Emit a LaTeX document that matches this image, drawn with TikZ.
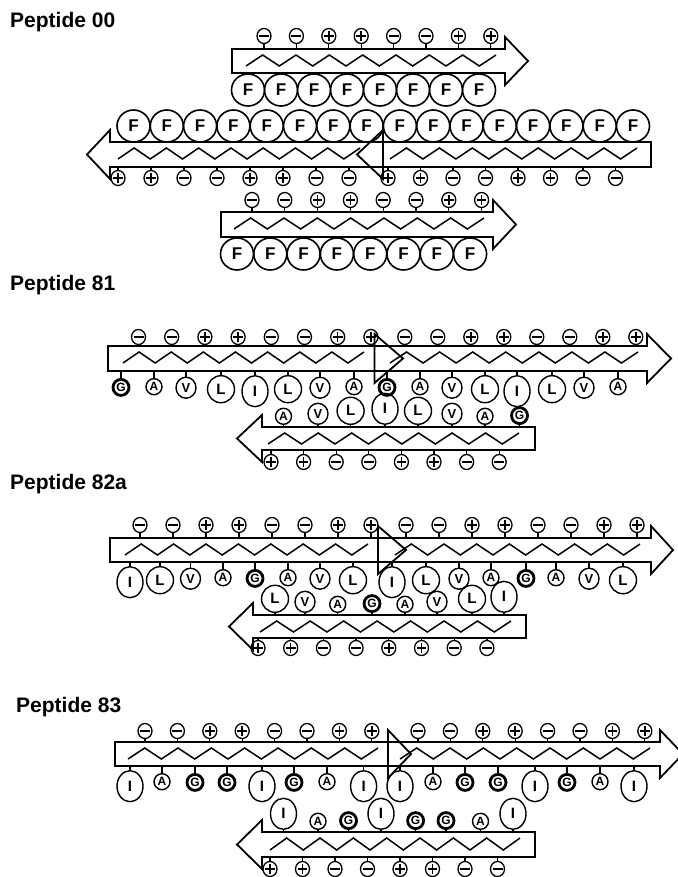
\documentclass[tikz,border=0pt]{standalone}
\usepackage{fontspec}
\setmainfont{Liberation Sans}
\usetikzlibrary{shapes.geometric}
\newcommand{\rarr}[5]{%
  \draw[strand] (#1,#3) -- (#2,#3) -- (#2,{#3-12}) -- (#5,{(#3+#4)/2}) -- (#2,{#4+12}) -- (#2,#4) -- (#1,#4) -- cycle;}
\newcommand{\larr}[5]{%
  \draw[strand] (#2,#3) -- (#1,#3) -- (#1,{#3-12}) -- (#5,{(#3+#4)/2}) -- (#1,{#4+12}) -- (#1,#4) -- (#2,#4) -- cycle;}
\newcommand{\zz}[4]{%
  \draw[zig] (#1,#4) \foreach \k in {1,...,15} { -- ({#1+(#2-#1)*\k/15},{ifthenelse(mod(\k,2)==1,#3,#4)}) };}
\newcommand{\chgrow}[7]{%
  \foreach \s [count=\i from 0] in {#5} {
    \node[chg,chg\s] (#1\i) at ({#2+#3*\i},#4) {};
    \draw[stem] (#1\i.#6) -- ({#2+#3*\i},#7);
  }}
\newcommand{\restop}[4]{%
  \foreach \x/\r [count=\i] in {#4} {
    \node[res,res\r,anchor=north,shiftT\r] (#1\i) at (\x,#2) {\r};
    \draw[stem] (\x,#3) -- (#1\i.north);
  }}
\newcommand{\resbot}[4]{%
  \foreach \x/\r [count=\i] in {#4} {
    \node[res,res\r,anchor=south] (#1\i) at (\x,#2) {\r};
    \draw[stem] (#1\i.south) -- (\x,#3);
  }}
\newcommand{\frow}[5]{%
  \foreach \i in {0,...,#4} {
    \node[res,resF] (#1\i) at ({#2+#3*\i},#5) {F};
  }}
\begin{document}
\begin{tikzpicture}[x=1pt,y=-1pt,
  strand/.style={line width=1.8pt, line join=miter},
  zig/.style={line width=1.5pt, line join=miter},
  stem/.style={line width=1.3pt},
  chg/.style={ellipse, draw, line width=1.3pt, minimum width=14pt, minimum height=15pt, inner sep=0pt},
  chgp/.style={path picture={\draw[line width=1.5pt] ([xshift=-4.8pt]path picture bounding box.center) -- ([xshift=4.8pt]path picture bounding box.center) ([yshift=-4.8pt]path picture bounding box.center) -- ([yshift=4.8pt]path picture bounding box.center);}},
  chgm/.style={path picture={\draw[line width=1.5pt] ([xshift=-5pt]path picture bounding box.center) -- ([xshift=5pt]path picture bounding box.center);}},
  res/.style={ellipse, draw, line width=1.4pt, inner sep=0pt, font=\bfseries\fontsize{12}{12}\selectfont},
  resG/.style={minimum width=16pt, minimum height=16pt, line width=2.8pt},
  resA/.style={minimum width=16pt, minimum height=16pt},
  resV/.style={minimum width=20pt, minimum height=21pt, font=\bfseries\fontsize{13}{13}\selectfont},
  resL/.style={minimum width=27pt, minimum height=27pt, font=\bfseries\fontsize{15}{15}\selectfont},
  resI/.style={minimum width=26pt, minimum height=31pt, font=\bfseries\fontsize{15}{15}\selectfont},
  resF/.style={minimum width=33pt, minimum height=32pt, line width=1.6pt, font=\bfseries\fontsize{17}{17}\selectfont},
  shiftTG/.style={yshift=-3pt}, shiftTA/.style={yshift=-3pt}, shiftTV/.style={yshift=-1.5pt},
  shiftTL/.style={}, shiftTI/.style={},
  title/.style={anchor=base west, inner sep=0pt, font=\bfseries\fontsize{21}{21}\selectfont},
]
\useasboundingbox[fill=white] (0,0) rectangle (677,877);

% ---------------- Peptide 00
\node[title] (t0) at (10,28) {Peptide 00};
\chgrow{a}{264}{32.4}{36}{m,m,p,p,m,m,p,p}{south}{49}
\rarr{232}{505}{49}{73}{528}
\zz{246}{496}{55}{66}
\frow{fa}{248}{33}{7}{90}
\frow{fb}{133.5}{33.3}{15}{126}
\larr{110}{383}{142}{167}{87}
\larr{383}{651}{142}{167}{357}
\zz{118}{360}{148}{159}
\zz{390}{637}{148}{159}
\chgrow{b}{118}{33}{178}{p,p,m,m,p,p,m,m}{north}{167}
\chgrow{c}{388}{32.5}{178}{p,p,m,m,p,p,m,m}{north}{167}
\chgrow{d}{252}{32.8}{200}{m,m,p,p,m,m,p,p}{south}{212}
\rarr{221}{493}{212}{237}{516}
\zz{234}{484}{218}{229}
\frow{fc}{237}{33.3}{7}{254}

% ---------------- Peptide 81
\node[title] (t1) at (10,290) {Peptide 81};
\chgrow{e}{138.5}{33.2}{337}{m,m,p,p,m,m,p,p}{south}{346}
\chgrow{f}{404.8}{33}{337}{m,m,p,p,m,m,p,p}{south}{346}
\rarr{108}{374.5}{346}{371}{403}
\rarr{374.5}{647}{346}{371}{671}
\zz{123}{364}{352}{363}
\zz{390}{638}{352}{363}
\restop{g}{375}{371}{121/G,154/A,186/V,221/L,255/I,288/L,320/V,354/A,387/G,420/A,452/V,485/L,517/I,552/L,584/V,618/A}
\resbot{h}{425}{427}{283.5/A,318/V,350.6/L,385/I,418/L,452/V,485/A,519.5/G}
\larr{262}{535}{427}{450}{237}
\zz{268}{519}{433}{444}
\chgrow{i}{271}{32.6}{462}{p,p,m,m,p,p,m,m}{north}{450}

% ---------------- Peptide 82a
\node[title] (t2) at (10,489) {Peptide 82a};
\chgrow{j}{140}{33}{525}{m,m,p,p,m,m,p,p}{south}{538}
\chgrow{k}{406}{33}{525}{m,m,p,p,m,m,p,p}{south}{538}
\rarr{110}{378}{538}{562}{406}
\rarr{378}{651}{538}{562}{673}
\zz{125}{368}{544}{555}
\zz{395}{640}{544}{555}
\restop{l}{566}{562}{130/I,160/L,190.5/V,223/A,255/G,288/A,320/V,353/L,392/I,426/L,459/V,491/A,526/G,556/A,589/V,623/L}
\resbot{m}{613}{615}{275/L,305/V,337.7/A,372/G,405/A,437/V,472/L,504/I}
\larr{253}{526}{615}{638}{229}
\zz{260}{511}{621}{632}
\chgrow{n}{258}{32.7}{648}{p,p,m,m,p,p,m,m}{north}{638}

% ---------------- Peptide 83
\node[title] (t3) at (16,712) {Peptide 83};
\chgrow{o}{145}{32.4}{731}{m,m,p,p,m,m,p,p}{south}{742}
\chgrow{q}{418}{32.4}{731}{m,m,p,p,m,m,p,p}{south}{742}
\rarr{115}{388}{742}{766}{411}
\rarr{388}{660}{742}{766}{683}
\zz{128}{378}{748}{759}
\zz{400}{650}{748}{759}
\restop{r}{770}{766}{130/I,162/A,195/G,227/G,262/I,294/G,327/A,363.6/I,400/I,433/A,465/G,498/G,535/I,567/G,600/A,634/I}
\resbot{s}{830}{832}{283.5/I,318/A,348.5/G,381/I,415.6/G,446/G,480.5/A,513/I}
\larr{262}{535}{832}{857}{237}
\zz{270}{520}{838}{850}
\chgrow{u}{270}{32.5}{869}{p,p,m,m,p,p,m,m}{north}{857}
\end{tikzpicture}
\end{document}
